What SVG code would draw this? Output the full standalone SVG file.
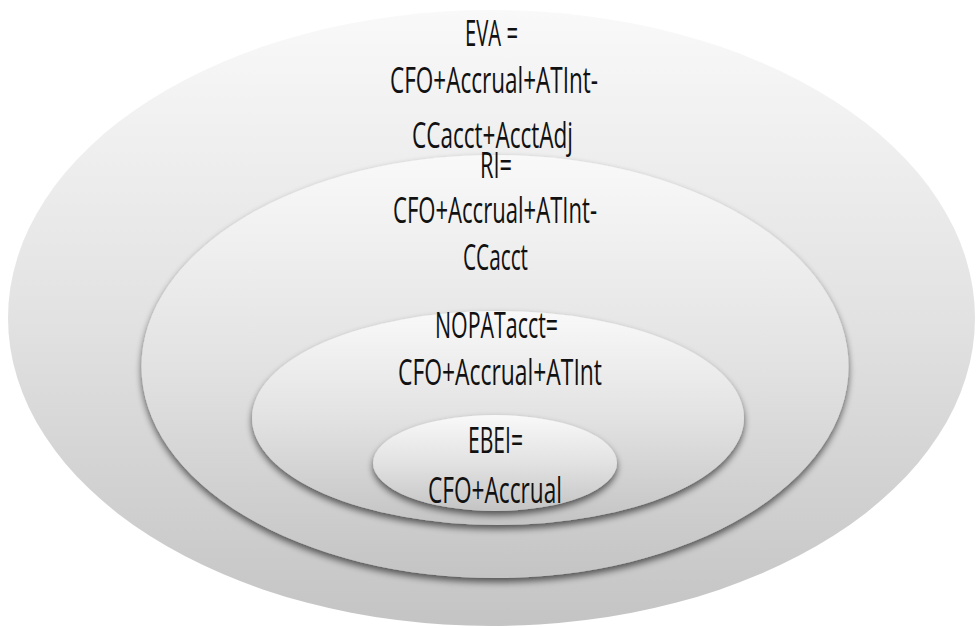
<svg xmlns="http://www.w3.org/2000/svg" width="976" height="628" viewBox="0 0 976 628">
  <defs>
    <linearGradient id="g" x1="0" y1="0" x2="0" y2="1">
      <stop offset="0" stop-color="#f9f9f9"/>
      <stop offset="0.5" stop-color="#e2e2e2"/>
      <stop offset="1" stop-color="#c4c4c4"/>
    </linearGradient>
    <filter id="sh" x="-10%" y="-10%" width="120%" height="130%">
      <feGaussianBlur in="SourceAlpha" stdDeviation="3.5"/>
      <feOffset dx="0" dy="4" result="b"/>
      <feComponentTransfer><feFuncA type="linear" slope="0.6"/></feComponentTransfer>
      <feMerge><feMergeNode/><feMergeNode in="SourceGraphic"/></feMerge>
    </filter>
    <style>
      .ell { fill: url(#g); }
      .inner { filter: url(#sh); }
      .lbl { font-family: "Open Sans", "Liberation Sans", sans-serif; font-size: 36px; fill: #111; text-anchor: middle; }
    </style>
  </defs>
  <rect width="976" height="628" fill="#ffffff"/>
  <g id="eva">
    <ellipse class="ell" cx="491.5" cy="318" rx="483.5" ry="308"/>
    <text class="lbl" x="491.5" y="46" textLength="53" lengthAdjust="spacingAndGlyphs">EVA =</text>
    <text class="lbl" x="494" y="93" textLength="208" lengthAdjust="spacingAndGlyphs">CFO+Accrual+ATInt-</text>
    <text class="lbl" x="492.5" y="148" textLength="161" lengthAdjust="spacingAndGlyphs">CCacct+AcctAdj</text>
  </g>
  <g id="ri">
    <ellipse class="ell inner" cx="495" cy="366.5" rx="353.5" ry="211.5"/>
    <text class="lbl" x="496" y="178" textLength="32" lengthAdjust="spacingAndGlyphs">RI=</text>
    <text class="lbl" x="495" y="223" textLength="204" lengthAdjust="spacingAndGlyphs">CFO+Accrual+ATInt-</text>
    <text class="lbl" x="495.5" y="270" textLength="65" lengthAdjust="spacingAndGlyphs">CCacct</text>
  </g>
  <g id="nopat">
    <ellipse class="ell inner" cx="498" cy="418" rx="246" ry="107"/>
    <text class="lbl" x="496.5" y="338" textLength="123" lengthAdjust="spacingAndGlyphs">NOPATacct=</text>
    <text class="lbl" x="500" y="385" textLength="204" lengthAdjust="spacingAndGlyphs">CFO+Accrual+ATInt</text>
  </g>
  <g id="ebei">
    <ellipse class="ell inner" cx="495" cy="463" rx="122" ry="48"/>
    <text class="lbl" x="495.5" y="453" textLength="55" lengthAdjust="spacingAndGlyphs">EBEI=</text>
    <text class="lbl" x="495" y="503" textLength="134" lengthAdjust="spacingAndGlyphs">CFO+Accrual</text>
  </g>
  <g id="connectors"/>
</svg>
